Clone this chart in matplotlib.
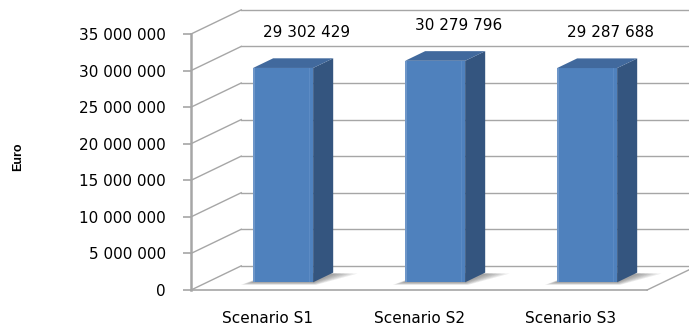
import numpy as np
import matplotlib
matplotlib.use("Agg")
import matplotlib.pyplot as plt

# scenario totals in euro
scenarios = ["Scenario S1", "Scenario S2", "Scenario S3"]
totals = [29302429, 30279796, 29287688]
yticks = [0, 5000000, 10000000, 15000000, 20000000, 25000000, 30000000, 35000000]


def fmt(v):
    return f"{v:,}".replace(",", " ")


# pseudo-3d geometry: full wall depth in data units, bar sits between d0 and d1
DX, DY = 0.33, 3.3e6
d0, d1 = 0.32, 0.72
bar_w = 0.395

front_col = "#4F81BD"
side_col = "#34557F"
top_col = "#41699D"
grid_col = "#A6A6A6"

fig = plt.figure(figsize=(6.89, 3.29), dpi=100)
ax = fig.add_axes([0, 0, 1, 1])
ax.set_xlim(-1.757, 2.776)
ax.set_ylim(-5.33e6, 39.65e6)

x0, x1 = -0.5, len(totals) - 0.5
xr = 5.0  # back wall runs off the right edge

# back wall gridlines and diagonals from the front axis
for t in yticks:
    ax.plot([x0 + DX, xr], [t + DY, t + DY], color=grid_col, lw=1, zorder=1)
    ax.plot([x0, x0 + DX], [t, t + DY], color=grid_col, lw=1, zorder=1)
# floor right edge
ax.plot([x1, x1 + DX], [0, DY], color=grid_col, lw=1, zorder=1)

# bars
for i, v in enumerate(totals):
    l = i - bar_w / 2 + d0 * DX
    r = i + bar_w / 2 + d0 * DX
    b = d0 * DY
    ox, oy = (d1 - d0) * DX, (d1 - d0) * DY

    # soft shadow on the floor, spreading out from the footprint
    for k in range(6):
        s = (k + 1) / 6
        ax.fill([l - 0.08 * s, r + 0.02 * s, r + ox + 0.16 * s, l + ox],
                [b - 0.35e6 * s, b - 0.35e6 * s, b + oy * 0.9, b + oy],
                color="#505050", alpha=0.11, lw=0, zorder=2)

    ax.fill([l, r, r, l], [b, b, b + v, b + v], color=front_col, lw=0, zorder=3)
    # lighter edges on the front face
    ax.fill([l, l + 0.012, l + 0.012, l], [b, b, b + v, b + v],
            color="#6E96C8", lw=0, zorder=3)
    ax.fill([r - 0.03, r - 0.018, r - 0.018, r - 0.03], [b, b, b + v, b + v],
            color="#5C8BC4", lw=0, zorder=3)
    ax.fill([r, r + ox, r + ox, r], [b, b + oy, b + v + oy, b + v],
            color=side_col, lw=0, zorder=3)
    ax.fill([l, r, r + ox, l + ox], [b + v, b + v, b + v + oy, b + v + oy],
            color=top_col, lw=0, zorder=3)

    ax.text(i + 0.26, v + 5.9e6, fmt(v), ha="center", va="center",
            fontsize=11, color="#000000", zorder=4)

# front value axis
for side in ["top", "right"]:
    ax.spines[side].set_visible(False)
ax.spines["left"].set_position(("data", x0))
ax.spines["left"].set_bounds(0, yticks[-1])
ax.spines["left"].set_color(grid_col)
ax.spines["left"].set_linewidth(1.8)
ax.spines["bottom"].set_position(("data", 0))
ax.spines["bottom"].set_bounds(x0, x1)
ax.spines["bottom"].set_color(grid_col)
ax.spines["bottom"].set_linewidth(1.2)

ax.set_yticks(yticks)
ax.set_yticklabels([fmt(t) for t in yticks])
ax.tick_params(axis="y", direction="out", length=6, width=1.2, color=grid_col,
               pad=12, labelsize=11, labelcolor="#000000")
ax.set_xticks(range(len(scenarios)))
ax.set_xticklabels(scenarios)
ax.tick_params(axis="x", length=0, pad=15, labelsize=11, labelcolor="#000000")

ax.text(18 / 689, 1 - 157 / 329, "Euro", transform=ax.transAxes, rotation=90,
        ha="center", va="center", fontsize=9, fontweight="bold",
        family=["Liberation Sans", "DejaVu Sans"])

ax.patch.set_visible(False)
fig.savefig("out.png", dpi=100, facecolor="white")
